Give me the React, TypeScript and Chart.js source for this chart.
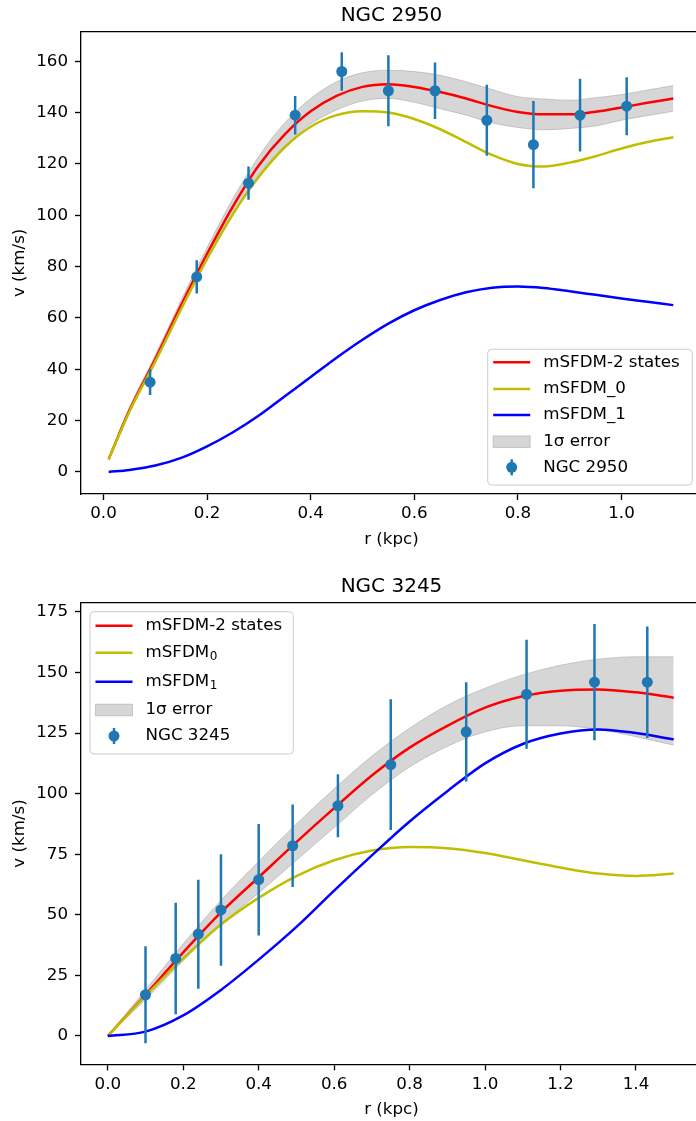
import React, { useEffect, useRef } from "react";
import { Chart, registerables } from "chart.js";

Chart.register(...registerables);

// ---------------- NGC 2950 (top panel) ----------------
const topTitle = "NGC 2950";
const topCurveR = [0.01, 0.05, 0.1, 0.15, 0.2, 0.25, 0.3, 0.35, 0.4, 0.45, 0.5, 0.55, 0.6, 0.65, 0.7, 0.75, 0.8, 0.85, 0.9, 0.95, 1.0, 1.05, 1.1];
const topTotal = [5, 24, 44, 65, 85, 103.5, 119.5, 131.5, 140.5, 146.5, 150, 151, 150, 148, 145.5, 142.5, 140.2, 139.3, 139.3, 140.3, 142, 143.8, 145.5];
const topBandHigh = [5.5, 25, 45.5, 67, 87.5, 106.5, 123, 136, 145.5, 152, 155.5, 156.5, 156, 154.5, 152, 149, 146.2, 145.3, 144.8, 145.8, 147, 148.8, 150.5];
const topBandLow = [4.5, 23, 42.5, 63, 82.5, 100.5, 116, 127, 135.5, 141, 144.5, 145.5, 144, 141.5, 139, 136, 134.2, 133.3, 133.8, 134.8, 137, 138.8, 140.5];
const topState0 = [5, 23.5, 43, 63.5, 83, 100.5, 115, 126.5, 134.5, 139, 140.5, 140, 137.5, 133.5, 128.5, 123.5, 120, 119, 120.5, 123, 126, 128.5, 130.4];
const topState1 = [0, 0.8, 2.5, 5.5, 10, 15.5, 22, 29.5, 37, 44.5, 51.5, 57.8, 63, 67, 70, 71.8, 72.3, 71.7, 70.4, 69, 67.6, 66.3, 65];
const topObsR = [0.09, 0.18, 0.28, 0.37, 0.46, 0.55, 0.64, 0.74, 0.83, 0.92, 1.01];
const topObsV = [35, 76, 112.5, 139, 156, 148.5, 148.5, 137, 127.5, 139, 142.5];
const topObsErr = [5, 6.5, 6.5, 7.5, 7.5, 13.8, 11, 13.8, 17, 14.2, 11.3];
const topXTicks = [0.0, 0.2, 0.4, 0.6, 0.8, 1.0];
const topYTicks = [0, 20, 40, 60, 80, 100, 120, 140, 160];

// ---------------- NGC 3245 (bottom panel) ----------------
const botTitle = "NGC 3245";
const botCurveR = [0, 0.1, 0.2, 0.3, 0.4, 0.5, 0.6, 0.7, 0.8, 0.9, 1.0, 1.1, 1.2, 1.3, 1.4, 1.5];
const botTotal = [0, 17, 34.5, 51, 65.5, 80, 94, 107.5, 119, 128, 135.5, 140.2, 142.5, 143, 141.8, 139.6];
const botBandHigh = [0, 19, 38, 56, 72, 87.5, 102, 115.5, 127, 136.5, 143.5, 149, 153, 155.5, 156.5, 156.5];
const botBandLow = [0, 15, 31, 46, 59, 72.5, 86, 99.5, 111, 119.5, 125.5, 128, 128, 126.5, 123.5, 120];
const botState0 = [0, 16.5, 32, 46, 57, 66, 72.5, 76.5, 78, 77.5, 75.5, 72.5, 69.5, 67, 66, 67];
const botState1 = [0, 1.8, 8.5, 19, 31.5, 45, 60, 74.5, 88.5, 101, 112.5, 120.5, 124.8, 126.5, 125, 122.4];
const botObsR = [0.1, 0.18, 0.24, 0.3, 0.4, 0.49, 0.61, 0.75, 0.95, 1.11, 1.29, 1.43];
const botObsV = [17, 32, 42, 52, 64.5, 78.5, 95, 112, 125.5, 141, 146, 146];
const botObsErr = [20, 23, 22.5, 23, 23, 17, 13, 27, 20.5, 22.5, 24, 23];
const botXTicks = [0.0, 0.2, 0.4, 0.6, 0.8, 1.0, 1.2, 1.4];
const botYTicks = [0, 25, 50, 75, 100, 125, 150, 175];

// ---------------- styling ----------------
const FONT = '"DejaVu Sans", "Liberation Sans", sans-serif';
const RED = "#ff0000";
const YEL = "#bfbf00";
const BLUE = "#0000ff";
const C0 = "#1f77b4";
const BAND = "rgba(128,128,128,0.32)";
const BAND_EDGE = "rgba(128,128,128,0.35)";

type LegendItem = { kind: "line" | "patch" | "err"; color: string; label: string; sub?: string; dy: number };

type Panel = {
  title: string;
  curveR: number[];
  total: number[];
  hi: number[];
  lo: number[];
  s0: number[];
  s1: number[];
  obsR: number[];
  obsV: number[];
  obsErr: number[];
  xTicks: number[];
  yTicks: number[];
  xMin: number;
  xMax: number;
  yMin: number;
  yMax: number;
  padTop: number;
  xAxisH: number;
  legend: { corner: "lr" | "ul"; w: number; h: number; items: LegendItem[] };
};

function pts(xs: number[], ys: number[]) {
  return xs.map((x, i) => ({ x, y: ys[i] }));
}

function roundRect(ctx: CanvasRenderingContext2D, x: number, y: number, w: number, h: number, r: number) {
  ctx.beginPath();
  ctx.moveTo(x + r, y);
  ctx.lineTo(x + w - r, y);
  ctx.arcTo(x + w, y, x + w, y + r, r);
  ctx.lineTo(x + w, y + h - r);
  ctx.arcTo(x + w, y + h, x + w - r, y + h, r);
  ctx.lineTo(x + r, y + h);
  ctx.arcTo(x, y + h, x, y + h - r, r);
  ctx.lineTo(x, y + r);
  ctx.arcTo(x, y, x + r, y, r);
  ctx.closePath();
}

function decorPlugin(p: Panel) {
  return {
    id: "decor",
    beforeDatasetDraw(chart: any, args: any) {
      if (args.index !== 0) return;
      const xs = chart.scales.x;
      const ys = chart.scales.y;
      const a = chart.chartArea;
      const ctx: CanvasRenderingContext2D = chart.ctx;
      ctx.save();
      ctx.beginPath();
      ctx.rect(a.left, a.top, a.right - a.left, a.bottom - a.top);
      ctx.clip();
      ctx.strokeStyle = C0;
      ctx.lineWidth = 2.5;
      ctx.beginPath();
      p.obsR.forEach((r, i) => {
        const x = xs.getPixelForValue(r);
        ctx.moveTo(x, ys.getPixelForValue(p.obsV[i] - p.obsErr[i]));
        ctx.lineTo(x, ys.getPixelForValue(p.obsV[i] + p.obsErr[i]));
      });
      ctx.stroke();
      ctx.restore();
    },
    afterDraw(chart: any) {
      const ctx: CanvasRenderingContext2D = chart.ctx;
      const a = chart.chartArea;
      ctx.save();
      // top / right spines
      ctx.strokeStyle = "#000";
      ctx.lineWidth = 1.33;
      ctx.beginPath();
      ctx.moveTo(a.left, a.top);
      ctx.lineTo(a.right, a.top);
      ctx.lineTo(a.right, a.bottom);
      ctx.stroke();

      const cx = (a.left + a.right) / 2;
      ctx.fillStyle = "#000";
      ctx.textAlign = "center";
      ctx.textBaseline = "alphabetic";
      ctx.font = `20px ${FONT}`;
      ctx.fillText(p.title, cx, a.top - 11);
      ctx.font = `16.7px ${FONT}`;
      ctx.fillText("r (kpc)", cx, a.bottom + 49.7);
      ctx.save();
      ctx.translate(24.4, (a.top + a.bottom) / 2);
      ctx.rotate(-Math.PI / 2);
      ctx.fillText("v (km/s)", 0, 0);
      ctx.restore();

      // legend
      const L = p.legend;
      const bx = L.corner === "lr" ? a.right - 9.7 - L.w : a.left + 9;
      const by = L.corner === "lr" ? a.bottom - 9 - L.h : a.top + 9;
      roundRect(ctx, bx, by, L.w, L.h, 4);
      ctx.fillStyle = "rgba(255,255,255,0.8)";
      ctx.fill();
      ctx.strokeStyle = "#cccccc";
      ctx.lineWidth = 1;
      ctx.stroke();
      const h0 = bx + 5.5;
      const h1 = bx + 42.5;
      const tx = bx + 55.5;
      L.items.forEach((it) => {
        const y = by + it.dy;
        if (it.kind === "line") {
          ctx.strokeStyle = it.color;
          ctx.lineWidth = 2.5;
          ctx.beginPath();
          ctx.moveTo(h0, y);
          ctx.lineTo(h1, y);
          ctx.stroke();
        } else if (it.kind === "patch") {
          ctx.fillStyle = it.color;
          ctx.fillRect(h0, y - 5.8, h1 - h0, 11.6);
          ctx.strokeStyle = BAND_EDGE;
          ctx.lineWidth = 1;
          ctx.strokeRect(h0, y - 5.8, h1 - h0, 11.6);
        } else {
          const mx = (h0 + h1) / 2;
          ctx.strokeStyle = it.color;
          ctx.lineWidth = 2.5;
          ctx.beginPath();
          ctx.moveTo(mx, y - 8);
          ctx.lineTo(mx, y + 8);
          ctx.stroke();
          ctx.fillStyle = it.color;
          ctx.beginPath();
          ctx.arc(mx, y, 5.5, 0, Math.PI * 2);
          ctx.fill();
        }
        ctx.fillStyle = "#000";
        ctx.textAlign = "left";
        ctx.textBaseline = "middle";
        ctx.font = `16.7px ${FONT}`;
        ctx.fillText(it.label, tx, y);
        if (it.sub) {
          const w = ctx.measureText(it.label).width;
          ctx.font = `12px ${FONT}`;
          ctx.fillText(it.sub, tx + w + 0.5, y + 4.5);
        }
      });
      ctx.restore();
    },
  };
}

function makeConfig(p: Panel): any {
  const tickFont = { family: FONT, size: 16.7 };
  const grid = { display: true, drawOnChartArea: false, drawTicks: true, tickLength: 6, tickWidth: 1.33, tickColor: "#000" };
  const border = { display: true, color: "#000", width: 1.33 };
  const line = (data: any, color: string) => ({
    data,
    borderColor: color,
    backgroundColor: color,
    borderWidth: 2.5,
    pointRadius: 0,
    cubicInterpolationMode: "monotone",
    fill: false,
  });
  return {
    type: "line",
    data: {
      datasets: [
        {
          data: pts(p.obsR, p.obsV),
          showLine: false,
          pointRadius: 5.5,
          pointBackgroundColor: C0,
          pointBorderColor: C0,
          pointBorderWidth: 0,
          backgroundColor: C0,
          borderColor: C0,
        },
        line(pts(p.curveR, p.s1), BLUE),
        line(pts(p.curveR, p.s0), YEL),
        line(pts(p.curveR, p.total), RED),
        {
          data: pts(p.curveR, p.lo),
          borderColor: BAND_EDGE,
          borderWidth: 1,
          pointRadius: 0,
          cubicInterpolationMode: "monotone",
          fill: false,
        },
        {
          data: pts(p.curveR, p.hi),
          borderColor: BAND_EDGE,
          borderWidth: 1,
          backgroundColor: BAND,
          pointRadius: 0,
          cubicInterpolationMode: "monotone",
          fill: "-1",
        },
      ],
    },
    options: {
      responsive: false,
      animation: false,
      devicePixelRatio: 1,
      events: [],
      layout: { padding: { top: p.padTop, left: 0, right: 10, bottom: 0 } },
      plugins: {
        legend: { display: false },
        tooltip: { enabled: false },
        title: { display: false },
        filler: { drawTime: "beforeDatasetsDraw" },
      },
      scales: {
        x: {
          type: "linear",
          min: p.xMin,
          max: p.xMax,
          afterBuildTicks: (s: any) => {
            s.ticks = p.xTicks.map((v) => ({ value: v }));
          },
          afterFit: (s: any) => {
            s.height = p.xAxisH;
          },
          grid,
          border,
          ticks: {
            font: tickFont,
            color: "#000",
            padding: 4,
            maxRotation: 0,
            autoSkip: false,
            callback: (v: any) => Number(v).toFixed(1),
          },
        },
        y: {
          type: "linear",
          min: p.yMin,
          max: p.yMax,
          afterBuildTicks: (s: any) => {
            s.ticks = p.yTicks.map((v) => ({ value: v }));
          },
          afterFit: (s: any) => {
            s.width = 81;
          },
          grid,
          border,
          ticks: {
            font: tickFont,
            color: "#000",
            padding: 7,
            autoSkip: false,
            callback: (v: any) => String(v),
          },
        },
      },
    },
    plugins: [decorPlugin(p)],
  };
}

const topPanel: Panel = {
  title: topTitle,
  curveR: topCurveR,
  total: topTotal,
  hi: topBandHigh,
  lo: topBandLow,
  s0: topState0,
  s1: topState1,
  obsR: topObsR,
  obsV: topObsV,
  obsErr: topObsErr,
  xTicks: topXTicks,
  yTicks: topYTicks,
  xMin: -0.0434,
  xMax: 1.1554,
  yMin: -8.57,
  yMax: 171.5,
  padTop: 31.7,
  xAxisH: 66,
  legend: {
    corner: "lr",
    w: 204.6,
    h: 135.7,
    items: [
      { kind: "line", color: RED, label: "mSFDM-2 states", dy: 13 },
      { kind: "line", color: YEL, label: "mSFDM_0", dy: 39.7 },
      { kind: "line", color: BLUE, label: "mSFDM_1", dy: 65.7 },
      { kind: "patch", color: BAND, label: "1σ error", dy: 92.4 },
      { kind: "err", color: C0, label: "NGC 2950", dy: 118 },
    ],
  },
};

const botPanel: Panel = {
  title: botTitle,
  curveR: botCurveR,
  total: botTotal,
  hi: botBandHigh,
  lo: botBandLow,
  s0: botState0,
  s1: botState1,
  obsR: botObsR,
  obsV: botObsV,
  obsErr: botObsErr,
  xTicks: botXTicks,
  yTicks: botYTicks,
  xMin: -0.071,
  xMax: 1.575,
  yMin: -11.7,
  yMax: 178.8,
  padTop: 42.7,
  xAxisH: 56.7,
  legend: {
    corner: "ul",
    w: 203.3,
    h: 142.3,
    items: [
      { kind: "line", color: RED, label: "mSFDM-2 states", dy: 14 },
      { kind: "line", color: YEL, label: "mSFDM", sub: "0", dy: 41 },
      { kind: "line", color: BLUE, label: "mSFDM", sub: "1", dy: 70 },
      { kind: "patch", color: BAND, label: "1σ error", dy: 98.3 },
      { kind: "err", color: C0, label: "NGC 3245", dy: 124.3 },
    ],
  },
};

export default function App() {
  const topRef = useRef<HTMLCanvasElement>(null);
  const botRef = useRef<HTMLCanvasElement>(null);

  useEffect(() => {
    const c1 = new Chart(topRef.current as HTMLCanvasElement, makeConfig(topPanel));
    const c2 = new Chart(botRef.current as HTMLCanvasElement, makeConfig(botPanel));
    return () => {
      c1.destroy();
      c2.destroy();
    };
  }, []);

  return (
    <div
      style={{
        position: "absolute",
        left: 0,
        top: 0,
        width: 696,
        height: 1121,
        overflow: "hidden",
        background: "#fff",
      }}
    >
      <canvas
        ref={topRef}
        width={712}
        height={560}
        style={{ position: "absolute", left: 0, top: 0, width: 712, height: 560 }}
      />
      <canvas
        ref={botRef}
        width={712}
        height={561}
        style={{ position: "absolute", left: 0, top: 560, width: 712, height: 561 }}
      />
    </div>
  );
}
